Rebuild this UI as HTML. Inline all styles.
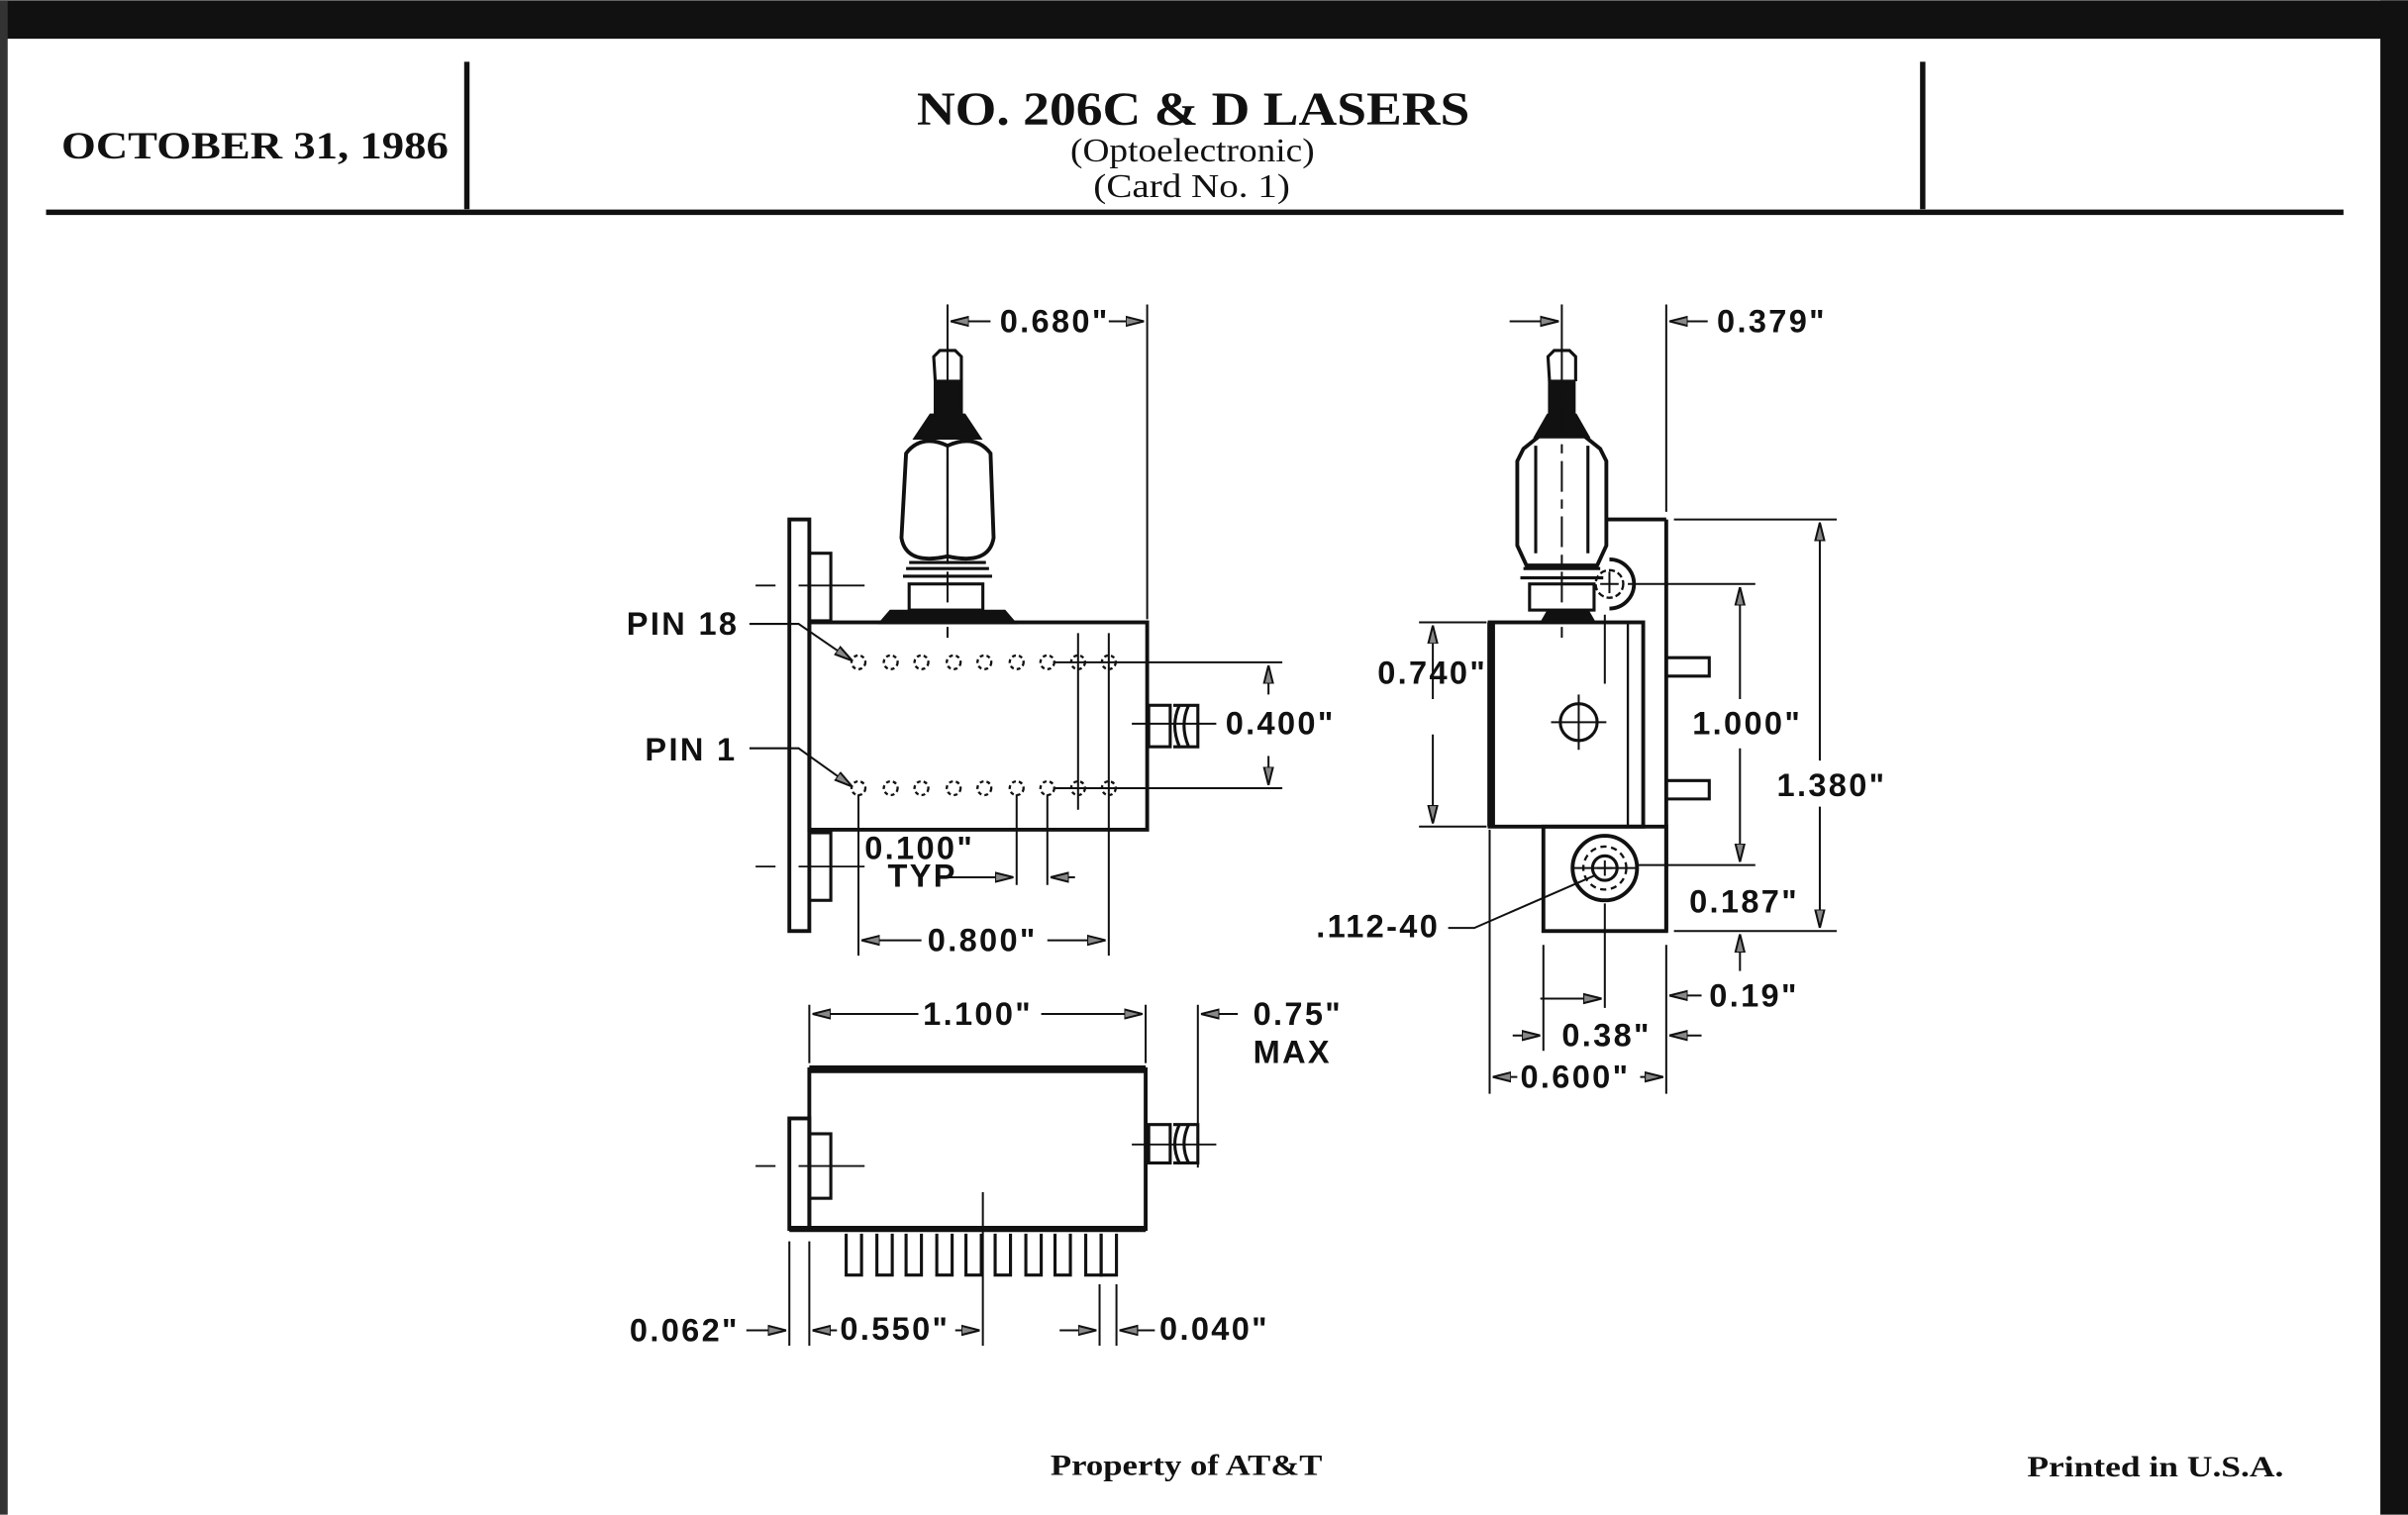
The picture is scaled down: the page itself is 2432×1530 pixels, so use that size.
<!DOCTYPE html>
<html><head><meta charset="utf-8"><style>
html,body{margin:0;padding:0;background:#fff;}
svg{display:block;}
.d{font-family:"Liberation Sans",sans-serif;font-weight:bold;font-size:21px;letter-spacing:1.5px;fill:#111;}
.s{font-family:"Liberation Serif",serif;fill:#111;}
</style></head><body>
<svg width="2432" height="1530" viewBox="0 0 1568 986" xmlns="http://www.w3.org/2000/svg">
<defs>
<marker id="a" viewBox="0 0 12 8" refX="12" refY="4" markerWidth="12" markerHeight="8" orient="auto" markerUnits="userSpaceOnUse">
<path d="M0,1 L12,4 L0,7 Z" fill="#888" stroke="#111" stroke-width="1.3"/></marker>
</defs>
<rect width="1568" height="986" fill="#fff"/>
<rect x="0" y="0" width="1568" height="25" fill="#111"/>
<rect x="1550" y="0" width="18" height="986" fill="#111"/>
<rect x="0" y="0" width="5" height="986" fill="#333"/>
<!-- header -->
<line x1="30" y1="138" x2="1526" y2="138" stroke="#111" stroke-width="3.5"/>
<line x1="304" y1="40" x2="304" y2="136" stroke="#111" stroke-width="3.5"/>
<line x1="1252" y1="40" x2="1252" y2="136" stroke="#111" stroke-width="3.5"/>
<text x="40" y="103" class="s" font-size="25" font-weight="bold" textLength="252" lengthAdjust="spacingAndGlyphs">OCTOBER 31, 1986</text>
<text x="597" y="81" class="s" font-size="31" font-weight="bold" textLength="360" lengthAdjust="spacingAndGlyphs">NO. 206C &amp; D LASERS</text>
<text x="697" y="105" class="s" font-size="22" textLength="159" lengthAdjust="spacingAndGlyphs">(Optoelectronic)</text>
<text x="712" y="128" class="s" font-size="22" textLength="128" lengthAdjust="spacingAndGlyphs">(Card No. 1)</text>
<text x="684" y="960" class="s" font-size="19" font-weight="bold" textLength="177" lengthAdjust="spacingAndGlyphs">Property of AT&amp;T</text>
<text x="1320" y="961" class="s" font-size="19" font-weight="bold" textLength="167" lengthAdjust="spacingAndGlyphs">Printed in U.S.A.</text>

<g stroke="#111" fill="none" stroke-width="2">
<!-- FRONT VIEW -->
<rect x="514" y="338" width="13" height="268" stroke-width="2.5"/>
<rect x="527" y="360" width="14" height="44"/>
<rect x="527" y="542" width="14" height="44"/>
<line x1="492" y1="381" x2="505" y2="381" stroke-width="1.2"/><line x1="520" y1="381" x2="563" y2="381" stroke-width="1.2"/>
<line x1="492" y1="564" x2="505" y2="564" stroke-width="1.2"/><line x1="520" y1="564" x2="563" y2="564" stroke-width="1.2"/>
<rect x="527" y="405" width="220" height="135" stroke-width="2.5"/>
<path d="M574,405 L580,398 L654,398 L660,405 Z" stroke-width="2.5" fill="#111"/>
<rect x="592" y="380" width="48" height="17"/>
<line x1="590" y1="370" x2="644" y2="370"/><line x1="588" y1="375" x2="646" y2="375"/><line x1="592" y1="366" x2="642" y2="366"/>
<path d="M617,290 Q600,282 590,295 L587,350 Q590,368 617,362 Q644,368 647,350 L645,295 Q635,282 617,290 Z" stroke-width="2.5"/>
<line x1="617" y1="290" x2="617" y2="362" stroke-width="1.5"/>
<path d="M596,285 L606,270 L628,270 L638,285 Z" fill="#111"/>
<rect x="609" y="248" width="17" height="22" fill="#111"/>
<path d="M609,248 L608,232 L612,228 L622,228 L626,232 L626,248" />
<line x1="617" y1="198" x2="617" y2="228" stroke-width="1.3"/>
<line x1="617" y1="228" x2="617" y2="415" stroke-width="1.3" stroke-dasharray="20,5,6,5"/>
<!-- pins -->
<g stroke-width="1.5" stroke-dasharray="2.5,2">
<circle cx="559" cy="431" r="4.5"/><circle cx="580" cy="431" r="4.5"/><circle cx="600" cy="431" r="4.5"/><circle cx="621" cy="431" r="4.5"/><circle cx="641" cy="431" r="4.5"/><circle cx="662" cy="431" r="4.5"/><circle cx="682" cy="431" r="4.5"/><circle cx="702" cy="431" r="4.5"/><circle cx="722" cy="431" r="4.5"/>
<circle cx="559" cy="513" r="4.5"/><circle cx="580" cy="513" r="4.5"/><circle cx="600" cy="513" r="4.5"/><circle cx="621" cy="513" r="4.5"/><circle cx="641" cy="513" r="4.5"/><circle cx="662" cy="513" r="4.5"/><circle cx="682" cy="513" r="4.5"/><circle cx="702" cy="513" r="4.5"/><circle cx="722" cy="513" r="4.5"/>
</g>
<g stroke-width="1.3">
<line x1="687" y1="431" x2="835" y2="431"/><line x1="687" y1="513" x2="835" y2="513"/>
<line x1="702" y1="412" x2="702" y2="527"/><line x1="722" y1="412" x2="722" y2="622"/>
<line x1="826" y1="452" x2="826" y2="433" marker-end="url(#a)"/><line x1="826" y1="492" x2="826" y2="511" marker-end="url(#a)"/>
<line x1="559" y1="517" x2="559" y2="622"/><line x1="662" y1="517" x2="662" y2="576"/><line x1="682" y1="517" x2="682" y2="576"/>
<line x1="613" y1="571" x2="660" y2="571" marker-end="url(#a)"/><line x1="700" y1="571" x2="684" y2="571" marker-end="url(#a)"/>
<line x1="600" y1="612" x2="561" y2="612" marker-end="url(#a)"/><line x1="682" y1="612" x2="720" y2="612" marker-end="url(#a)"/>
<line x1="747" y1="198" x2="747" y2="403"/>
<line x1="645" y1="209" x2="619" y2="209" marker-end="url(#a)"/><line x1="722" y1="209" x2="745" y2="209" marker-end="url(#a)"/>
<path d="M488,406 L520,406 L555,430" marker-end="url(#a)"/>
<path d="M488,487 L520,487 L555,512" marker-end="url(#a)"/>
<line x1="737" y1="471" x2="792" y2="471"/>
</g>
<rect x="748" y="459" width="14" height="27"/>
<path d="M764,459 L780,459 L780,486 L764,486 M768,459 Q762,472 768,486 M774,459 Q768,472 774,486"/>

<!-- BOTTOM VIEW -->
<rect x="527" y="696" width="219" height="104" stroke-width="2.5"/>
<line x1="527" y1="696" x2="746" y2="696" stroke-width="5"/>
<rect x="514" y="728" width="13" height="72" stroke-width="2.5"/>
<rect x="527" y="738" width="14" height="42"/>
<line x1="514" y1="800" x2="746" y2="800" stroke-width="4"/>
<line x1="492" y1="759" x2="505" y2="759" stroke-width="1.2"/><line x1="520" y1="759" x2="563" y2="759" stroke-width="1.2"/>
<rect x="748" y="732" width="14" height="25"/>
<path d="M764,732 L780,732 L780,757 L764,757 M768,732 Q762,745 768,757 M774,732 Q768,745 774,757"/>
<line x1="737" y1="745" x2="792" y2="745" stroke-width="1.2"/>
<g stroke-width="2">
<path d="M551,803 V830 H561 V803"/><path d="M571,803 V830 H581 V803"/><path d="M590,803 V830 H600 V803"/><path d="M610,803 V830 H620 V803"/><path d="M629,803 V830 H639 V803"/><path d="M648,803 V830 H658 V803"/><path d="M668,803 V830 H678 V803"/><path d="M687,803 V830 H697 V803"/><path d="M707,803 V830 H717 V803"/><path d="M717,803 V830 H727 V803"/>
</g>
<g stroke-width="1.3">
<line x1="640" y1="776" x2="640" y2="876"/>
<line x1="514" y1="808" x2="514" y2="876"/><line x1="527" y1="808" x2="527" y2="876"/>
<line x1="716" y1="836" x2="716" y2="876"/><line x1="727" y1="836" x2="727" y2="876"/>
<line x1="486" y1="866" x2="512" y2="866" marker-end="url(#a)"/><line x1="545" y1="866" x2="529" y2="866" marker-end="url(#a)"/>
<line x1="622" y1="866" x2="638" y2="866" marker-end="url(#a)"/>
<line x1="690" y1="866" x2="714" y2="866" marker-end="url(#a)"/><line x1="752" y1="866" x2="729" y2="866" marker-end="url(#a)"/>
<line x1="527" y1="654" x2="527" y2="692"/><line x1="746" y1="654" x2="746" y2="692"/>
<line x1="598" y1="660" x2="529" y2="660" marker-end="url(#a)"/><line x1="678" y1="660" x2="744" y2="660" marker-end="url(#a)"/>
<line x1="780" y1="654" x2="780" y2="760"/><line x1="806" y1="660" x2="782" y2="660" marker-end="url(#a)"/>
</g>

<!-- SIDE VIEW -->
<line x1="1046" y1="338" x2="1085" y2="338" stroke-width="2.5"/>
<line x1="1085" y1="338" x2="1085" y2="606" stroke-width="2.5"/>
<rect x="1005" y="538" width="80" height="68" stroke-width="2.5"/>
<rect x="970" y="405" width="100" height="133" stroke-width="2.5"/>
<line x1="971" y1="405" x2="971" y2="538" stroke-width="5"/>
<line x1="1060" y1="405" x2="1060" y2="538" stroke-width="1.5"/>
<path d="M1085,428 H1113 V440 H1085 M1085,508 H1113 V520 H1085" stroke-width="2"/>
<path d="M1048,364 A16,16 0 0 1 1048,396" stroke-width="2.5"/>
<circle cx="1048" cy="380" r="9" stroke-width="1.5" stroke-dasharray="4,2"/>
<circle cx="1045" cy="565" r="21" stroke-width="2.5"/>
<circle cx="1045" cy="565" r="14" stroke-width="1.5" stroke-dasharray="4,3"/>
<circle cx="1045" cy="565" r="8" stroke-width="2"/>
<circle cx="1028" cy="470" r="12" stroke-width="2"/>
<g stroke-width="1.3">
<line x1="1010" y1="470" x2="1046" y2="470"/><line x1="1028" y1="452" x2="1028" y2="488"/>
<line x1="1048" y1="372" x2="1048" y2="386"/><line x1="1042" y1="380" x2="1054" y2="380"/>
<line x1="1040" y1="565" x2="1050" y2="565"/><line x1="1045" y1="560" x2="1045" y2="570"/>
</g>
<path d="M1004,405 L1008,398 L1034,398 L1038,405 Z" fill="#111"/>
<rect x="996" y="380" width="42" height="17"/>
<line x1="992" y1="370" x2="1042" y2="370"/><line x1="990" y1="376" x2="1044" y2="376"/>
<path d="M992,292 L1002,284 L1032,284 L1042,292 L1046,300 L1046,355 L1040,368 L994,368 L988,355 L988,300 Z" stroke-width="2.5"/>
<line x1="1000" y1="290" x2="1000" y2="360"/><line x1="1034" y1="290" x2="1034" y2="360"/>
<path d="M1000,284 L1008,270 L1026,270 L1034,284 Z" fill="#111"/>
<rect x="1009" y="248" width="16" height="22" fill="#111"/>
<path d="M1009,248 L1008,232 L1012,228 L1022,228 L1026,232 L1026,248"/>
<line x1="1017" y1="198" x2="1017" y2="228" stroke-width="1.3"/>
<line x1="1017" y1="228" x2="1017" y2="415" stroke-width="1.3" stroke-dasharray="20,5,6,5"/>
<g stroke-width="1.3">
<line x1="1045" y1="400" x2="1045" y2="445"/>
<line x1="983" y1="209" x2="1015" y2="209" marker-end="url(#a)"/>
<line x1="1085" y1="198" x2="1085" y2="333"/><line x1="1112" y1="209" x2="1087" y2="209" marker-end="url(#a)"/>
<line x1="1090" y1="338" x2="1196" y2="338"/><line x1="1090" y1="606" x2="1196" y2="606"/>
<line x1="1185" y1="495" x2="1185" y2="340" marker-end="url(#a)"/><line x1="1185" y1="525" x2="1185" y2="604" marker-end="url(#a)"/>
<line x1="1060" y1="380" x2="1143" y2="380"/><line x1="1065" y1="563" x2="1143" y2="563"/>
<line x1="1133" y1="455" x2="1133" y2="382" marker-end="url(#a)"/><line x1="1133" y1="487" x2="1133" y2="561" marker-end="url(#a)"/>
<line x1="924" y1="405" x2="968" y2="405"/><line x1="924" y1="538" x2="968" y2="538"/>
<line x1="933" y1="455" x2="933" y2="407" marker-end="url(#a)"/><line x1="933" y1="478" x2="933" y2="536" marker-end="url(#a)"/>
<line x1="1133" y1="632" x2="1133" y2="608" marker-end="url(#a)"/>
<line x1="1045" y1="588" x2="1045" y2="656"/>
<line x1="970" y1="540" x2="970" y2="712"/><line x1="1005" y1="615" x2="1005" y2="684"/><line x1="1085" y1="615" x2="1085" y2="712"/>
<line x1="1108" y1="648" x2="1087" y2="648" marker-end="url(#a)"/>
<line x1="1003" y1="650" x2="1043" y2="650" marker-end="url(#a)"/>
<line x1="985" y1="674" x2="1003" y2="674" marker-end="url(#a)"/><line x1="1108" y1="674" x2="1087" y2="674" marker-end="url(#a)"/>
<line x1="988" y1="701" x2="972" y2="701" marker-end="url(#a)"/><line x1="1068" y1="701" x2="1083" y2="701" marker-end="url(#a)"/>
<path d="M943,604 L960,604 L1038,570"/>
<line x1="1025" y1="565" x2="1065" y2="565"/>
</g>
</g>

<!-- dimension text -->
<text x="651" y="216" class="d">0.680"</text>
<text x="408" y="413" class="d">PIN 18</text>
<text x="420" y="495" class="d">PIN 1</text>
<text x="798" y="478" class="d">0.400"</text>
<text x="563" y="559" class="d">0.100"</text>
<text x="578" y="577" class="d">TYP</text>
<text x="604" y="619" class="d">0.800"</text>
<text x="601" y="667" class="d">1.100"</text>
<text x="816" y="667" class="d">0.75"</text>
<text x="816" y="692" class="d">MAX</text>
<text x="410" y="873" class="d">0.062"</text>
<text x="547" y="872" class="d">0.550"</text>
<text x="755" y="872" class="d">0.040"</text>
<text x="1118" y="216" class="d">0.379"</text>
<text x="897" y="445" class="d">0.740"</text>
<text x="1102" y="478" class="d">1.000"</text>
<text x="1157" y="518" class="d">1.380"</text>
<text x="1100" y="594" class="d">0.187"</text>
<text x="857" y="610" class="d">.112-40</text>
<text x="1113" y="655" class="d">0.19"</text>
<text x="1017" y="681" class="d">0.38"</text>
<text x="990" y="708" class="d">0.600"</text>
</svg>
</body></html>
